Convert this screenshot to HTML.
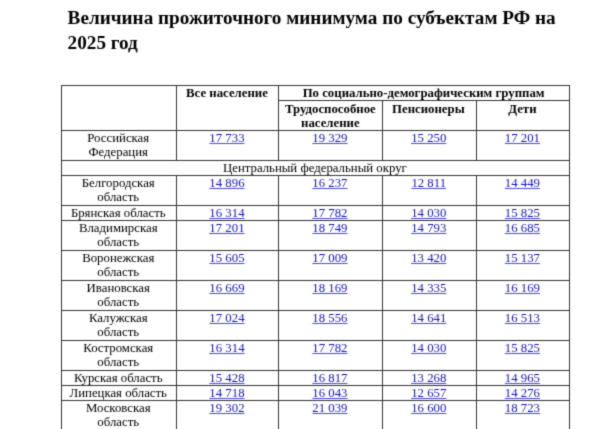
<!DOCTYPE html>
<html lang="ru"><head><meta charset="utf-8"><title>Величина прожиточного минимума по субъектам РФ на 2025 год</title>
<style>
html,body{margin:0;padding:0;background:#fff;}
body{width:600px;height:429px;position:relative;overflow:hidden;font-family:"Liberation Serif",serif;color:#000;}
#w{position:absolute;left:0;top:0;width:600px;height:431px;filter:url(#soft);}
.l{position:absolute;background:#333333;}
.t{position:absolute;text-align:center;font-size:12.8px;line-height:14.4px;white-space:nowrap;}
.b{font-weight:bold;}
a{color:#1616c4;text-decoration:underline;text-decoration-color:rgba(22,22,196,0.75);}
h1{position:absolute;left:67.6px;top:5.32px;margin:0;font-size:19.2px;line-height:25px;font-weight:bold;white-space:nowrap;}
</style></head><body><svg width="0" height="0" style="position:absolute"><filter id="soft" x="0" y="0" width="100%" height="100%" color-interpolation-filters="sRGB"><feConvolveMatrix order="3" kernelMatrix="1 4 1 4 20 4 1 4 1" divisor="40" edgeMode="duplicate" preserveAlpha="false"/></filter></svg><div id="w">
<h1>Величина прожиточного минимума по субъектам РФ на<br>2025 год</h1>
<div class="l" style="left:60.8px;top:84.7px;width:509.4px;height:1px"></div>
<div class="l" style="left:278.2px;top:99.7px;width:292px;height:1px"></div>
<div class="l" style="left:60.8px;top:129.7px;width:509.4px;height:1px"></div>
<div class="t b" style="left:175.8px;width:102.3px;top:85.5px;">Все население</div>
<div class="t b" style="left:278.1px;width:291px;top:85.5px;">По социально-демографическим группам</div>
<div class="t b" style="left:278.5px;width:103.7px;top:101.5px;line-height:14.6px">Трудоспособное<br>население</div>
<div class="t b" style="left:381.4px;width:93.9px;top:101.5px;">Пенсионеры</div>
<div class="t b" style="left:475.7px;width:93.4px;top:101.5px;">Дети</div>
<div class="l" style="left:175.9px;top:85.2px;width:1px;height:45px"></div>
<div class="l" style="left:278.2px;top:85.2px;width:1px;height:45px"></div>
<div class="l" style="left:381.9px;top:100.2px;width:1px;height:30px"></div>
<div class="l" style="left:475.8px;top:100.2px;width:1px;height:30px"></div>
<div class="t" style="left:60.7px;width:115.1px;top:130.5px;">Российская<br>Федерация</div>
<div class="t" style="left:175.8px;width:102.3px;top:130.5px;"><a>17 733</a></div>
<div class="t" style="left:278.1px;width:103.7px;top:130.5px;"><a>19 329</a></div>
<div class="t" style="left:381.8px;width:93.9px;top:130.5px;"><a>15 250</a></div>
<div class="t" style="left:475.7px;width:93.4px;top:130.5px;"><a>17 201</a></div>
<div class="l" style="left:175.9px;top:130.2px;width:1px;height:30px"></div>
<div class="l" style="left:278.2px;top:130.2px;width:1px;height:30px"></div>
<div class="l" style="left:381.9px;top:130.2px;width:1px;height:30px"></div>
<div class="l" style="left:475.8px;top:130.2px;width:1px;height:30px"></div>
<div class="l" style="left:60.8px;top:159.7px;width:509.4px;height:1px"></div>
<div class="t" style="left:60.7px;width:508.4px;top:160.5px;">Центральный федеральный округ</div>
<div class="l" style="left:60.8px;top:174.7px;width:509.4px;height:1px"></div>
<div class="t" style="left:60.7px;width:115.1px;top:175.5px;">Белгородская<br>область</div>
<div class="t" style="left:175.8px;width:102.3px;top:175.5px;"><a>14 896</a></div>
<div class="t" style="left:278.1px;width:103.7px;top:175.5px;"><a>16 237</a></div>
<div class="t" style="left:381.8px;width:93.9px;top:175.5px;"><a>12 811</a></div>
<div class="t" style="left:475.7px;width:93.4px;top:175.5px;"><a>14 449</a></div>
<div class="l" style="left:175.9px;top:175.2px;width:1px;height:30px"></div>
<div class="l" style="left:278.2px;top:175.2px;width:1px;height:30px"></div>
<div class="l" style="left:381.9px;top:175.2px;width:1px;height:30px"></div>
<div class="l" style="left:475.8px;top:175.2px;width:1px;height:30px"></div>
<div class="l" style="left:60.8px;top:204.7px;width:509.4px;height:1px"></div>
<div class="t" style="left:60.7px;width:115.1px;top:205.5px;">Брянская область</div>
<div class="t" style="left:175.8px;width:102.3px;top:205.5px;"><a>16 314</a></div>
<div class="t" style="left:278.1px;width:103.7px;top:205.5px;"><a>17 782</a></div>
<div class="t" style="left:381.8px;width:93.9px;top:205.5px;"><a>14 030</a></div>
<div class="t" style="left:475.7px;width:93.4px;top:205.5px;"><a>15 825</a></div>
<div class="l" style="left:175.9px;top:205.2px;width:1px;height:15px"></div>
<div class="l" style="left:278.2px;top:205.2px;width:1px;height:15px"></div>
<div class="l" style="left:381.9px;top:205.2px;width:1px;height:15px"></div>
<div class="l" style="left:475.8px;top:205.2px;width:1px;height:15px"></div>
<div class="l" style="left:60.8px;top:219.7px;width:509.4px;height:1px"></div>
<div class="t" style="left:60.7px;width:115.1px;top:220.5px;">Владимирская<br>область</div>
<div class="t" style="left:175.8px;width:102.3px;top:220.5px;"><a>17 201</a></div>
<div class="t" style="left:278.1px;width:103.7px;top:220.5px;"><a>18 749</a></div>
<div class="t" style="left:381.8px;width:93.9px;top:220.5px;"><a>14 793</a></div>
<div class="t" style="left:475.7px;width:93.4px;top:220.5px;"><a>16 685</a></div>
<div class="l" style="left:175.9px;top:220.2px;width:1px;height:30px"></div>
<div class="l" style="left:278.2px;top:220.2px;width:1px;height:30px"></div>
<div class="l" style="left:381.9px;top:220.2px;width:1px;height:30px"></div>
<div class="l" style="left:475.8px;top:220.2px;width:1px;height:30px"></div>
<div class="l" style="left:60.8px;top:249.7px;width:509.4px;height:1px"></div>
<div class="t" style="left:60.7px;width:115.1px;top:250.5px;">Воронежская<br>область</div>
<div class="t" style="left:175.8px;width:102.3px;top:250.5px;"><a>15 605</a></div>
<div class="t" style="left:278.1px;width:103.7px;top:250.5px;"><a>17 009</a></div>
<div class="t" style="left:381.8px;width:93.9px;top:250.5px;"><a>13 420</a></div>
<div class="t" style="left:475.7px;width:93.4px;top:250.5px;"><a>15 137</a></div>
<div class="l" style="left:175.9px;top:250.2px;width:1px;height:30px"></div>
<div class="l" style="left:278.2px;top:250.2px;width:1px;height:30px"></div>
<div class="l" style="left:381.9px;top:250.2px;width:1px;height:30px"></div>
<div class="l" style="left:475.8px;top:250.2px;width:1px;height:30px"></div>
<div class="l" style="left:60.8px;top:279.7px;width:509.4px;height:1px"></div>
<div class="t" style="left:60.7px;width:115.1px;top:280.5px;">Ивановская<br>область</div>
<div class="t" style="left:175.8px;width:102.3px;top:280.5px;"><a>16 669</a></div>
<div class="t" style="left:278.1px;width:103.7px;top:280.5px;"><a>18 169</a></div>
<div class="t" style="left:381.8px;width:93.9px;top:280.5px;"><a>14 335</a></div>
<div class="t" style="left:475.7px;width:93.4px;top:280.5px;"><a>16 169</a></div>
<div class="l" style="left:175.9px;top:280.2px;width:1px;height:30px"></div>
<div class="l" style="left:278.2px;top:280.2px;width:1px;height:30px"></div>
<div class="l" style="left:381.9px;top:280.2px;width:1px;height:30px"></div>
<div class="l" style="left:475.8px;top:280.2px;width:1px;height:30px"></div>
<div class="l" style="left:60.8px;top:309.7px;width:509.4px;height:1px"></div>
<div class="t" style="left:60.7px;width:115.1px;top:310.5px;">Калужская<br>область</div>
<div class="t" style="left:175.8px;width:102.3px;top:310.5px;"><a>17 024</a></div>
<div class="t" style="left:278.1px;width:103.7px;top:310.5px;"><a>18 556</a></div>
<div class="t" style="left:381.8px;width:93.9px;top:310.5px;"><a>14 641</a></div>
<div class="t" style="left:475.7px;width:93.4px;top:310.5px;"><a>16 513</a></div>
<div class="l" style="left:175.9px;top:310.2px;width:1px;height:30px"></div>
<div class="l" style="left:278.2px;top:310.2px;width:1px;height:30px"></div>
<div class="l" style="left:381.9px;top:310.2px;width:1px;height:30px"></div>
<div class="l" style="left:475.8px;top:310.2px;width:1px;height:30px"></div>
<div class="l" style="left:60.8px;top:339.7px;width:509.4px;height:1px"></div>
<div class="t" style="left:60.7px;width:115.1px;top:340.5px;">Костромская<br>область</div>
<div class="t" style="left:175.8px;width:102.3px;top:340.5px;"><a>16 314</a></div>
<div class="t" style="left:278.1px;width:103.7px;top:340.5px;"><a>17 782</a></div>
<div class="t" style="left:381.8px;width:93.9px;top:340.5px;"><a>14 030</a></div>
<div class="t" style="left:475.7px;width:93.4px;top:340.5px;"><a>15 825</a></div>
<div class="l" style="left:175.9px;top:340.2px;width:1px;height:30px"></div>
<div class="l" style="left:278.2px;top:340.2px;width:1px;height:30px"></div>
<div class="l" style="left:381.9px;top:340.2px;width:1px;height:30px"></div>
<div class="l" style="left:475.8px;top:340.2px;width:1px;height:30px"></div>
<div class="l" style="left:60.8px;top:369.7px;width:509.4px;height:1px"></div>
<div class="t" style="left:60.7px;width:115.1px;top:370.5px;">Курская область</div>
<div class="t" style="left:175.8px;width:102.3px;top:370.5px;"><a>15 428</a></div>
<div class="t" style="left:278.1px;width:103.7px;top:370.5px;"><a>16 817</a></div>
<div class="t" style="left:381.8px;width:93.9px;top:370.5px;"><a>13 268</a></div>
<div class="t" style="left:475.7px;width:93.4px;top:370.5px;"><a>14 965</a></div>
<div class="l" style="left:175.9px;top:370.2px;width:1px;height:15px"></div>
<div class="l" style="left:278.2px;top:370.2px;width:1px;height:15px"></div>
<div class="l" style="left:381.9px;top:370.2px;width:1px;height:15px"></div>
<div class="l" style="left:475.8px;top:370.2px;width:1px;height:15px"></div>
<div class="l" style="left:60.8px;top:384.7px;width:509.4px;height:1px"></div>
<div class="t" style="left:60.7px;width:115.1px;top:385.5px;">Липецкая область</div>
<div class="t" style="left:175.8px;width:102.3px;top:385.5px;"><a>14 718</a></div>
<div class="t" style="left:278.1px;width:103.7px;top:385.5px;"><a>16 043</a></div>
<div class="t" style="left:381.8px;width:93.9px;top:385.5px;"><a>12 657</a></div>
<div class="t" style="left:475.7px;width:93.4px;top:385.5px;"><a>14 276</a></div>
<div class="l" style="left:175.9px;top:385.2px;width:1px;height:15px"></div>
<div class="l" style="left:278.2px;top:385.2px;width:1px;height:15px"></div>
<div class="l" style="left:381.9px;top:385.2px;width:1px;height:15px"></div>
<div class="l" style="left:475.8px;top:385.2px;width:1px;height:15px"></div>
<div class="l" style="left:60.8px;top:399.7px;width:509.4px;height:1px"></div>
<div class="t" style="left:60.7px;width:115.1px;top:400.5px;">Московская<br>область</div>
<div class="t" style="left:175.8px;width:102.3px;top:400.5px;"><a>19 302</a></div>
<div class="t" style="left:278.1px;width:103.7px;top:400.5px;"><a>21 039</a></div>
<div class="t" style="left:381.8px;width:93.9px;top:400.5px;"><a>16 600</a></div>
<div class="t" style="left:475.7px;width:93.4px;top:400.5px;"><a>18 723</a></div>
<div class="l" style="left:175.9px;top:400.2px;width:1px;height:30px"></div>
<div class="l" style="left:278.2px;top:400.2px;width:1px;height:30px"></div>
<div class="l" style="left:381.9px;top:400.2px;width:1px;height:30px"></div>
<div class="l" style="left:475.8px;top:400.2px;width:1px;height:30px"></div>
<div class="l" style="left:60.8px;top:429.7px;width:509.4px;height:1px"></div>
<div class="l" style="left:60.8px;top:85.2px;width:1px;height:345.8px"></div>
<div class="l" style="left:569.2px;top:85.2px;width:1px;height:345.8px"></div>
</div></body></html>
